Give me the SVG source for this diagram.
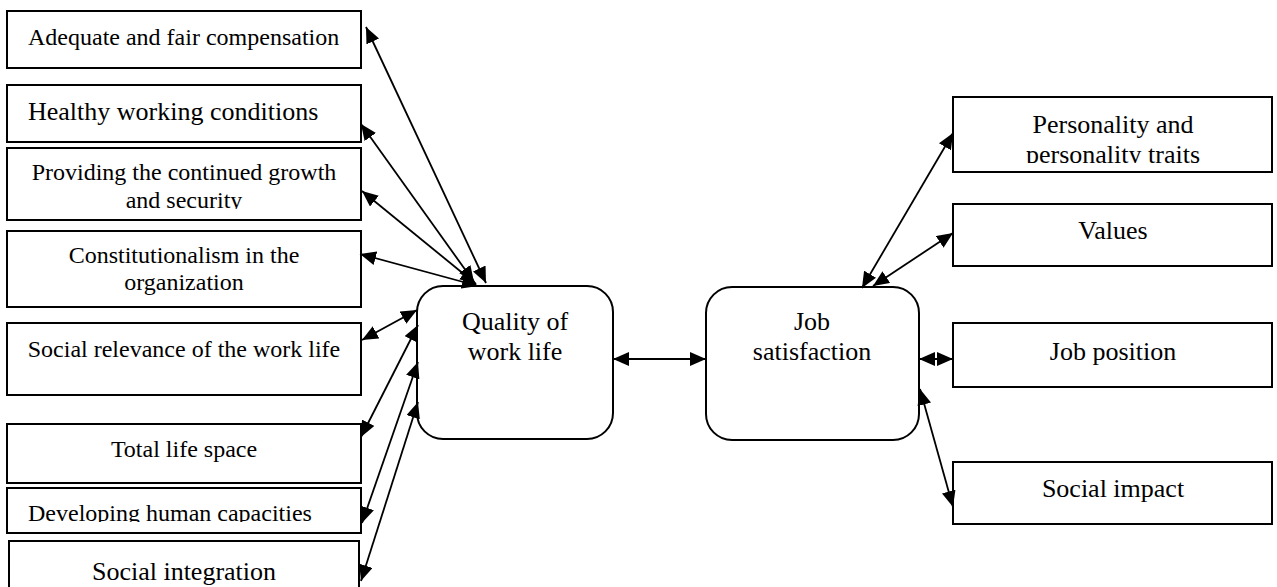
<svg xmlns="http://www.w3.org/2000/svg" width="1277" height="587" viewBox="0 0 1277 587">
<style>
.box{fill:#fff;stroke:#000;stroke-width:2}
.rbox{fill:#fff;stroke:#000;stroke-width:2}
.t{font-family:"Liberation Serif","Times New Roman",serif;fill:#000}
.s24{font-size:24px}
.s26{font-size:26px}
.m{text-anchor:middle}
.c{stroke:#000;stroke-width:1.8;fill:none;marker-start:url(#ah);marker-end:url(#ah)}
</style>
<defs>
<marker id="ah" markerUnits="userSpaceOnUse" markerWidth="17" markerHeight="14" refX="16" refY="7" orient="auto-start-reverse" viewBox="0 0 17 14">
<path d="M0,0 L16,7 L0,14 z" fill="#000"/>
</marker>
<clipPath id="cp3"><rect x="0" y="0" width="400" height="209"/></clipPath>
<clipPath id="cp7"><rect x="0" y="0" width="400" height="522"/></clipPath>
<clipPath id="cpP"><rect x="900" y="0" width="377" height="163"/></clipPath>
</defs>
<rect width="1277" height="587" fill="#fff"/>

<g id="n-adequate">
<rect class="box" x="7" y="11" width="354" height="57"/>
<text class="t s24" x="28" y="45">Adequate and fair compensation</text>
</g>
<g id="n-healthy">
<rect class="box" x="7" y="85" width="354" height="57"/>
<text class="t s26" x="28" y="120">Healthy working conditions</text>
</g>
<g id="n-providing">
<rect class="box" x="7" y="148" width="354" height="72"/>
<g clip-path="url(#cp3)">
<text class="t s24 m" x="184" y="180">Providing the continued growth</text>
<text class="t s24 m" x="184" y="208">and security</text>
</g>
</g>
<g id="n-constitutionalism">
<rect class="box" x="7" y="231" width="354" height="76"/>
<text class="t s24 m" x="184" y="263">Constitutionalism in the</text>
<text class="t s24 m" x="184" y="290">organization</text>
</g>
<g id="n-socialrelevance">
<rect class="box" x="7" y="323" width="354" height="72"/>
<text class="t s24 m" x="184" y="357">Social relevance of the work life</text>
</g>
<g id="n-totallife">
<rect class="box" x="7" y="424" width="354" height="59"/>
<text class="t s24 m" x="184" y="457">Total life space</text>
</g>
<g id="n-developing">
<rect class="box" x="7" y="488" width="354" height="45"/>
<g clip-path="url(#cp7)">
<text class="t s24" x="28" y="521">Developing human capacities</text>
</g>
</g>
<g id="n-socialintegration">
<rect class="box" x="9" y="541" width="350" height="60"/>
<text class="t s26 m" x="184" y="580">Social integration</text>
</g>

<g id="n-qwl">
<rect class="rbox" x="417" y="286" width="196" height="153" rx="26" ry="26"/>
<text class="t s26 m" x="515" y="330">Quality of</text>
<text class="t s26 m" x="515" y="360">work life</text>
</g>
<g id="n-js">
<rect class="rbox" x="706" y="287" width="213" height="153" rx="26" ry="26"/>
<text class="t s26 m" x="812" y="330">Job</text>
<text class="t s26 m" x="812" y="360">satisfaction</text>
</g>

<g id="n-personality">
<rect class="box" x="953" y="97" width="319" height="75"/>
<g clip-path="url(#cpP)">
<text class="t s26 m" x="1113" y="133">Personality and</text>
<text class="t s26 m" x="1113" y="163">personality traits</text>
</g>
</g>
<g id="n-values">
<rect class="box" x="953" y="204" width="319" height="62"/>
<text class="t s26 m" x="1113" y="239">Values</text>
</g>
<g id="n-jobposition">
<rect class="box" x="953" y="323" width="319" height="64"/>
<text class="t s26 m" x="1113" y="360">Job position</text>
</g>
<g id="n-socialimpact">
<rect class="box" x="953" y="462" width="319" height="62"/>
<text class="t s26 m" x="1113" y="497">Social impact</text>
</g>

<g id="connectors">
<line class="c" x1="366" y1="27" x2="486" y2="283"/>
<line class="c" x1="361" y1="124" x2="474" y2="282"/>
<line class="c" x1="362" y1="191" x2="476" y2="284"/>
<line class="c" x1="360" y1="254" x2="478" y2="286"/>
<line class="c" x1="362" y1="340" x2="417" y2="310"/>
<line class="c" x1="361" y1="437" x2="418" y2="325"/>
<line class="c" x1="362" y1="523" x2="418" y2="362"/>
<line class="c" x1="361" y1="581" x2="418" y2="402"/>
<line class="c" x1="613" y1="359" x2="706" y2="359"/>
<line class="c" x1="862" y1="288" x2="953" y2="133"/>
<line class="c" x1="873" y1="286" x2="953" y2="233"/>
<line class="c" x1="919" y1="359" x2="953" y2="359"/>
<line class="c" x1="920" y1="389" x2="953" y2="507"/>
</g>
</svg>
